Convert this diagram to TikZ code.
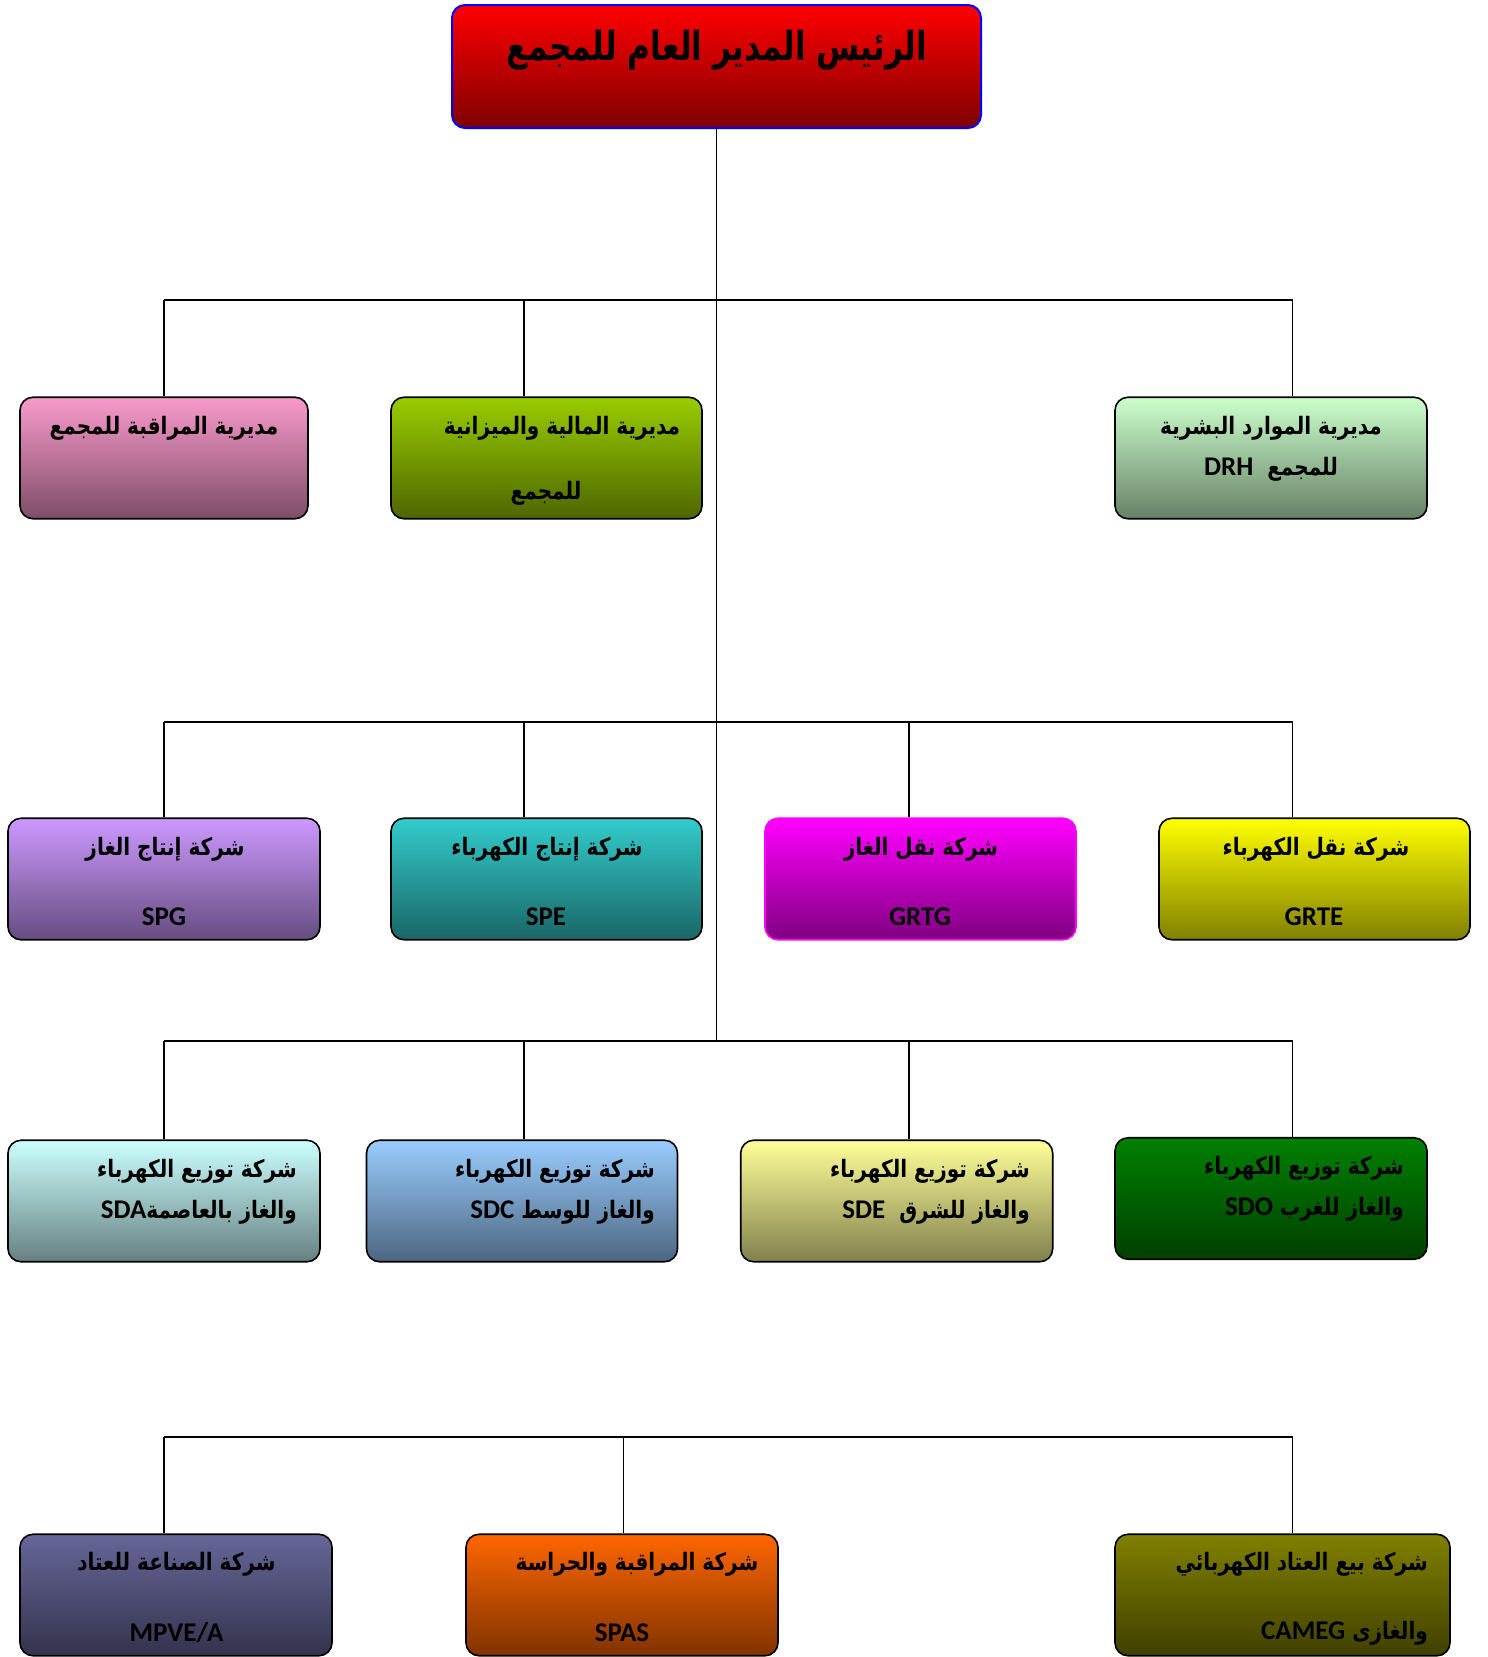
\documentclass[tikz,border=0pt]{standalone}
\usepackage{fontspec}
\TeXXeTstate=1
\newfontfamily\arabicfont[Script=Arabic, FakeStretch=0.834]{DejaVu Sans}
\newfontfamily\titlefont[Script=Arabic, FakeStretch=0.78]{DejaVu Sans}
\newfontfamily\latfont{Carlito}
\newcommand{\ar}[1]{{\arabicfont\bfseries\beginR #1\endR}}
\newcommand{\lat}[1]{{\latfont\bfseries\fontsize{27}{30}\selectfont\beginL #1\endL}}
\definecolor{ceoT}{HTML}{FF0000}\definecolor{ceoB}{HTML}{800000}
\definecolor{pkT}{HTML}{F99ACC}\definecolor{pkB}{HTML}{7D4D66}
\definecolor{grT}{HTML}{99CC00}\definecolor{grB}{HTML}{4D6600}
\definecolor{lgT}{HTML}{CCFFCC}\definecolor{lgB}{HTML}{668066}
\definecolor{vlT}{HTML}{CC99FF}\definecolor{vlB}{HTML}{664D80}
\definecolor{tlT}{HTML}{33CCCC}\definecolor{tlB}{HTML}{1A6666}
\definecolor{mgT}{HTML}{FF00FF}\definecolor{mgB}{HTML}{800080}
\definecolor{ylT}{HTML}{FFFF00}\definecolor{ylB}{HTML}{808000}
\definecolor{cyT}{HTML}{CCFFFF}\definecolor{cyB}{HTML}{668080}
\definecolor{blT}{HTML}{99CCFF}\definecolor{blB}{HTML}{4D6680}
\definecolor{lyT}{HTML}{FFFF99}\definecolor{lyB}{HTML}{80804D}
\definecolor{dgT}{HTML}{008000}\definecolor{dgB}{HTML}{004000}
\definecolor{puT}{HTML}{666699}\definecolor{puB}{HTML}{33334D}
\definecolor{orT}{HTML}{FF6600}\definecolor{orB}{HTML}{803300}
\definecolor{olT}{HTML}{808000}\definecolor{olB}{HTML}{404000}
\begin{document}
\begin{tikzpicture}[x=1pt,y=-1pt,
  box/.style={draw=black, line width=1.6pt, rounded corners=13pt, inner sep=0pt,
    minimum width=311pt, minimum height=121.5pt},
  ln/.style={draw=black, line width=1.6pt},
  tx/.style={inner sep=0pt, text=black, font=\fontsize{24}{28}\selectfont},
  shade/.style 2 args={top color=#1, bottom color=#2}]
\useasboundingbox (0,0) rectangle (1488,1657);
% boxes
\node[box, draw=blue, line width=2pt, minimum width=529pt, minimum height=123pt, shade={ceoT}{ceoB}] (ceo) at (716.5,66.5) {};
\node[box, minimum width=288pt, shade={pkT}{pkB}] (mraq) at (164,458) {};
\node[box, shade={grT}{grB}] (fin) at (546.5,458) {};
\node[box, minimum width=312pt, shade={lgT}{lgB}] (drh) at (1271,458) {};
\node[box, minimum width=312pt, shade={vlT}{vlB}] (spg) at (164,879) {};
\node[box, shade={tlT}{tlB}] (spe) at (546.5,879) {};
\node[box, draw=mgT, shade={mgT}{mgB}] (grtg) at (920.5,879) {};
\node[box, shade={ylT}{ylB}] (grte) at (1314.5,879) {};
\node[box, minimum width=312pt, shade={cyT}{cyB}] (sda) at (164,1201) {};
\node[box, shade={blT}{blB}] (sdc) at (522,1201) {};
\node[box, minimum width=312pt, shade={lyT}{lyB}] (sde) at (896.7,1201) {};
\node[box, minimum width=312pt, shade={dgT}{dgB}] (sdo) at (1271,1198.5) {};
\node[box, minimum width=312pt, shade={puT}{puB}] (mpve) at (176,1595) {};
\node[box, minimum width=312pt, shade={orT}{orB}] (spas) at (622,1595) {};
\node[box, minimum width=335pt, shade={olT}{olB}] (cameg) at (1282.5,1595) {};
% junctions
\coordinate (t3) at (716.5,1041);
\coordinate (a1) at (164,300);  \coordinate (b1) at (524,300);  \coordinate (d1) at (1292.5,300);
\coordinate (a2) at (164,722);  \coordinate (b2) at (524,722);  \coordinate (c2) at (909,722);  \coordinate (d2) at (1292.5,722);
\coordinate (a3) at (164,1041); \coordinate (b3) at (524,1041); \coordinate (c3) at (909,1041); \coordinate (d3) at (1292.5,1041);
\coordinate (a4) at (164,1437); \coordinate (b4) at (623.5,1437); \coordinate (d4) at (1292.5,1437);
% connectors
\draw[ln] (ceo.south) -- (t3);
\draw[ln] (a1) -- (d1);
\draw[ln] (a2) -- (d2);
\draw[ln] (a3) -- (d3);
\draw[ln] (a4) -- (d4);
\draw[ln] (a1) -- (a1 |- mraq.north);
\draw[ln] (b1) -- (b1 |- fin.north);
\draw[ln] (d1) -- (d1 |- drh.north);
\draw[ln] (a2) -- (a2 |- spg.north);
\draw[ln] (b2) -- (b2 |- spe.north);
\draw[ln] (c2) -- (c2 |- grtg.north);
\draw[ln] (d2) -- (d2 |- grte.north);
\draw[ln] (a3) -- (a3 |- sda.north);
\draw[ln] (b3) -- (b3 |- sdc.north);
\draw[ln] (c3) -- (c3 |- sde.north);
\draw[ln] (d3) -- (d3 |- sdo.north);
\draw[ln] (a4) -- (a4 |- mpve.north);
\draw[ln] (b4) -- (b4 |- spas.north);
\draw[ln] (d4) -- (d4 |- cameg.north);
% texts
\node[tx, font=\fontsize{40}{48}\selectfont] (tceo) at (717,50) {{\titlefont\bfseries\beginR الرئيس المدير العام للمجمع\endR}};
\node[tx] (tmraq) at (164,428) {\ar{مديرية المراقبة للمجمع}};
\node[tx] (tfin1) at (562,428) {\ar{مديرية المالية والميزانية}};
\node[tx] (tfin2) at (546,493) {\ar{للمجمع}};
\node[tx] (tdrh1) at (1271,428) {\ar{مديرية الموارد البشرية}};
\node[tx] (tdrh2) at (1271,469) {\ar{للمجمع\ \ \lat{DRH}}};
\node[tx] (tspg1) at (165,849) {\ar{شركة إنتاج الغاز}};
\node[tx] (tspg2) at (164,917) {\lat{SPG}};
\node[tx] (tspe1) at (547,849) {\ar{شركة إنتاج الكهرباء}};
\node[tx] (tspe2) at (546,917) {\lat{SPE}};
\node[tx] (tgrtg1) at (921,849) {\ar{شركة نقل الغاز}};
\node[tx] (tgrtg2) at (920,917) {\lat{GRTG}};
\node[tx] (tgrte1) at (1316,849) {\ar{شركة نقل الكهرباء}};
\node[tx] (tgrte2) at (1314,917) {\lat{GRTE}};
\node[tx, anchor=east] (tsda1) at (297,1171) {\ar{شركة توزيع الكهرباء}};
\node[tx, anchor=east] (tsda2) at (297,1212) {\ar{والغاز بالعاصمة\lat{SDA}}};
\node[tx, anchor=east] (tsdc1) at (655,1171) {\ar{شركة توزيع الكهرباء}};
\node[tx, anchor=east] (tsdc2) at (655,1212) {\ar{والغاز للوسط \lat{SDC}}};
\node[tx, anchor=east] (tsde1) at (1030,1171) {\ar{شركة توزيع الكهرباء}};
\node[tx, anchor=east] (tsde2) at (1030,1212) {\ar{والغاز للشرق\ \ \lat{SDE}}};
\node[tx, anchor=east] (tsdo1) at (1404,1168) {\ar{شركة توزيع الكهرباء}};
\node[tx, anchor=east] (tsdo2) at (1404,1209) {\ar{والغاز للغرب \lat{SDO}}};
\node[tx] (tmpve1) at (176.5,1564) {\ar{شركة الصناعة للعتاد}};
\node[tx] (tmpve2) at (176.5,1633) {\lat{MPVE/A}};
\node[tx] (tspas1) at (637,1564) {\ar{شركة المراقبة والحراسة}};
\node[tx] (tspas2) at (622,1633) {\lat{SPAS}};
\node[tx, anchor=east] (tcam1) at (1428,1564) {\ar{شركة بيع العتاد الكهربائي}};
\node[tx, anchor=east] (tcam2) at (1428,1633) {\ar{والغازى \lat{CAMEG}}};
\end{tikzpicture}
\end{document}
